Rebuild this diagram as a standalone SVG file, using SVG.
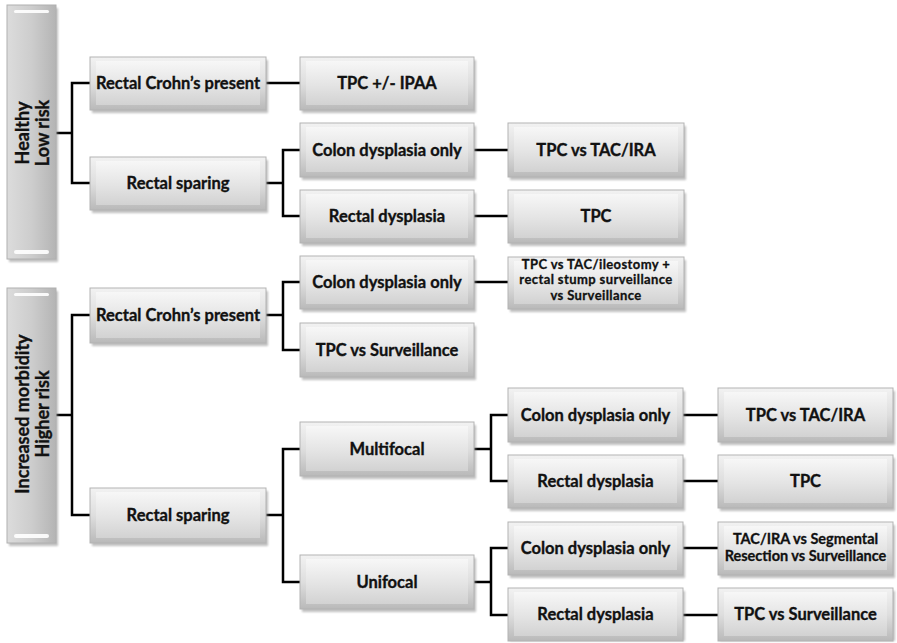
<svg xmlns="http://www.w3.org/2000/svg" width="897" height="643" viewBox="0 0 897 643">
<defs>
<linearGradient id="gOuter" x1="0" y1="0" x2="0" y2="1">
<stop offset="0" stop-color="#f2f2f2"/><stop offset="0.5" stop-color="#dedede"/><stop offset="1" stop-color="#b9b9b9"/>
</linearGradient>
<linearGradient id="gInner" x1="0" y1="0" x2="0" y2="1">
<stop offset="0" stop-color="#f7f7f7"/><stop offset="0.55" stop-color="#e4e4e4"/><stop offset="1" stop-color="#d2d2d2"/>
</linearGradient>
<linearGradient id="gTall" x1="0" y1="0" x2="1" y2="0">
<stop offset="0" stop-color="#dcdcdc"/><stop offset="0.5" stop-color="#cdcdcd"/><stop offset="1" stop-color="#b4b4b4"/>
</linearGradient>
<filter id="sh" x="-10%" y="-10%" width="130%" height="140%">
<feGaussianBlur stdDeviation="1.2"/>
</filter>
<style>
.shadow{fill:#8c8c8c;opacity:.55;filter:url(#sh)}
.outer{fill:url(#gOuter);stroke:#b3b3b3;stroke-width:1}
.inner{fill:url(#gInner)}
.tall{fill:url(#gTall);stroke:#b0b0b0;stroke-width:1}
.hl{fill:#ffffff;opacity:.9}
.t{font-family:Lato,"Open Sans","Liberation Sans",sans-serif;font-weight:700;font-size:16.5px;fill:#111;stroke:#111;stroke-width:0.35;text-anchor:middle}
.v{font-size:18px}
.s{font-size:13px;stroke-width:0.3;letter-spacing:0.4px}
.m{font-size:14.5px;stroke-width:0.3}
.conn{fill:none;stroke:#000;stroke-width:2.5}
</style>
</defs>
<rect width="897" height="643" fill="#fff"/>

<g id="connectors">
<path class="conn" d="M56 133 H72 M90 83 H72 V183 H90"/>
<path class="conn" d="M266 83 H300"/>
<path class="conn" d="M266 183 H283 M300 150 H283 V216 H300"/>
<path class="conn" d="M474 150 H508 M474 216 H508"/>
<path class="conn" d="M56 415 H72 M90 315 H72 V515 H90"/>
<path class="conn" d="M266 315 H283 M300 282 H283 V350 H300"/>
<path class="conn" d="M474 282 H508"/>
<path class="conn" d="M266 515 H283 M300 449 H283 V582 H300"/>
<path class="conn" d="M474 449 H491 M508 415 H491 V481 H508"/>
<path class="conn" d="M474 582 H491 M508 548 H491 V615 H508"/>
<path class="conn" d="M683 415 H718 M683 481 H718 M683 548 H718 M683 615 H718"/>
</g>

<g id="healthy">
<rect class="shadow" x="9" y="8" width="49" height="254"/>
<rect class="tall" x="7" y="5" width="49" height="254"/>
<rect class="hl" x="14" y="10" width="35" height="3" rx="1.5"/>
<rect class="hl" x="14" y="250" width="35" height="4" rx="2"/>
<text class="t v" transform="translate(31.5 133) rotate(-90)"><tspan x="0" y="-2.5">Healthy</tspan><tspan x="0" y="17.5">Low risk</tspan></text>
</g>

<g id="morbidity">
<rect class="shadow" x="9" y="291" width="49" height="255"/>
<rect class="tall" x="7" y="288" width="49" height="255"/>
<rect class="hl" x="14" y="293" width="35" height="3" rx="1.5"/>
<rect class="hl" x="14" y="534" width="35" height="4" rx="2"/>
<text class="t v" transform="translate(31.5 414) rotate(-90)"><tspan x="0" y="-2.5">Increased morbidity</tspan><tspan x="0" y="17.5">Higher risk</tspan></text>
</g>

<g id="h-rectal-crohns">
<rect class="shadow" x="92" y="60" width="176" height="53"/>
<rect class="outer" x="90" y="57" width="176" height="53"/>
<rect class="inner" x="96" y="61" width="164" height="44"/>
<text class="t" x="178" y="89">Rectal Crohn’s present</text>
</g>
<g id="h-rectal-sparing">
<rect class="shadow" x="92" y="160" width="176" height="53"/>
<rect class="outer" x="90" y="157" width="176" height="53"/>
<rect class="inner" x="96" y="161" width="164" height="44"/>
<text class="t" x="178" y="189">Rectal sparing</text>
</g>
<g id="h-tpc-ipaa">
<rect class="shadow" x="302" y="60" width="174" height="53"/>
<rect class="outer" x="300" y="57" width="174" height="53"/>
<rect class="inner" x="306" y="61" width="162" height="44"/>
<text class="t" x="387" y="89">TPC +/- IPAA</text>
</g>
<g id="h-colon-dysplasia">
<rect class="shadow" x="302" y="126" width="174" height="54"/>
<rect class="outer" x="300" y="123" width="174" height="54"/>
<rect class="inner" x="306" y="127" width="162" height="45"/>
<text class="t" x="387" y="155.5">Colon dysplasia only</text>
</g>
<g id="h-rectal-dysplasia">
<rect class="shadow" x="302" y="193" width="174" height="53"/>
<rect class="outer" x="300" y="190" width="174" height="53"/>
<rect class="inner" x="306" y="194" width="162" height="44"/>
<text class="t" x="387" y="222">Rectal dysplasia</text>
</g>
<g id="h-tpc-tac-ira">
<rect class="shadow" x="510" y="126" width="176" height="54"/>
<rect class="outer" x="508" y="123" width="176" height="54"/>
<rect class="inner" x="514" y="127" width="164" height="45"/>
<text class="t" x="596" y="155.5">TPC vs TAC/IRA</text>
</g>
<g id="h-tpc">
<rect class="shadow" x="510" y="193" width="176" height="53"/>
<rect class="outer" x="508" y="190" width="176" height="53"/>
<rect class="inner" x="514" y="194" width="164" height="44"/>
<text class="t" x="596" y="222">TPC</text>
</g>

<g id="m-rectal-crohns">
<rect class="shadow" x="92" y="291" width="176" height="55"/>
<rect class="outer" x="90" y="288" width="176" height="55"/>
<rect class="inner" x="96" y="292" width="164" height="46"/>
<text class="t" x="178" y="321">Rectal Crohn’s present</text>
</g>
<g id="m-rectal-sparing">
<rect class="shadow" x="92" y="491" width="176" height="55"/>
<rect class="outer" x="90" y="488" width="176" height="55"/>
<rect class="inner" x="96" y="492" width="164" height="46"/>
<text class="t" x="178" y="521">Rectal sparing</text>
</g>
<g id="m-colon-dysplasia">
<rect class="shadow" x="302" y="259" width="174" height="53"/>
<rect class="outer" x="300" y="256" width="174" height="53"/>
<rect class="inner" x="306" y="260" width="162" height="44"/>
<text class="t" x="387" y="288">Colon dysplasia only</text>
</g>
<g id="m-tpc-surveillance">
<rect class="shadow" x="302" y="326" width="174" height="54"/>
<rect class="outer" x="300" y="323" width="174" height="54"/>
<rect class="inner" x="306" y="327" width="162" height="45"/>
<text class="t" x="387" y="355.5">TPC vs Surveillance</text>
</g>
<g id="m-tpc-tac-ileostomy">
<rect class="shadow" x="510" y="260" width="176" height="52"/>
<rect class="outer" x="508" y="257" width="176" height="52"/>
<rect class="inner" x="514" y="261" width="164" height="43"/>
<text class="t s" x="596"><tspan x="596" y="268.5">TPC vs TAC/ileostomy +</tspan><tspan x="596" y="284">rectal stump surveillance</tspan><tspan x="596" y="299.5">vs Surveillance</tspan></text>
</g>
<g id="m-multifocal">
<rect class="shadow" x="302" y="425" width="174" height="54"/>
<rect class="outer" x="300" y="422" width="174" height="54"/>
<rect class="inner" x="306" y="426" width="162" height="45"/>
<text class="t" x="387" y="454.5">Multifocal</text>
</g>
<g id="m-unifocal">
<rect class="shadow" x="302" y="558" width="174" height="54"/>
<rect class="outer" x="300" y="555" width="174" height="54"/>
<rect class="inner" x="306" y="559" width="162" height="45"/>
<text class="t" x="387" y="587.5">Unifocal</text>
</g>
<g id="m-mf-colon-dysplasia">
<rect class="shadow" x="510" y="391" width="175" height="54"/>
<rect class="outer" x="508" y="388" width="175" height="54"/>
<rect class="inner" x="514" y="392" width="163" height="45"/>
<text class="t" x="595.5" y="420.5">Colon dysplasia only</text>
</g>
<g id="m-mf-rectal-dysplasia">
<rect class="shadow" x="510" y="458" width="175" height="53"/>
<rect class="outer" x="508" y="455" width="175" height="53"/>
<rect class="inner" x="514" y="459" width="163" height="44"/>
<text class="t" x="595.5" y="487">Rectal dysplasia</text>
</g>
<g id="m-mf-tpc-tac-ira">
<rect class="shadow" x="720" y="391" width="175" height="54"/>
<rect class="outer" x="718" y="388" width="175" height="54"/>
<rect class="inner" x="724" y="392" width="163" height="45"/>
<text class="t" x="805.5" y="420.5">TPC vs TAC/IRA</text>
</g>
<g id="m-mf-tpc">
<rect class="shadow" x="720" y="458" width="175" height="53"/>
<rect class="outer" x="718" y="455" width="175" height="53"/>
<rect class="inner" x="724" y="459" width="163" height="44"/>
<text class="t" x="805.5" y="487">TPC</text>
</g>
<g id="m-uf-colon-dysplasia">
<rect class="shadow" x="510" y="525" width="175" height="53"/>
<rect class="outer" x="508" y="522" width="175" height="53"/>
<rect class="inner" x="514" y="526" width="163" height="44"/>
<text class="t" x="595.5" y="554">Colon dysplasia only</text>
</g>
<g id="m-uf-rectal-dysplasia">
<rect class="shadow" x="510" y="591" width="175" height="50"/>
<rect class="outer" x="508" y="588" width="175" height="53"/>
<rect class="inner" x="514" y="592" width="163" height="44"/>
<text class="t" x="595.5" y="620">Rectal dysplasia</text>
</g>
<g id="m-uf-tac-ira-segmental">
<rect class="shadow" x="720" y="525" width="175" height="53"/>
<rect class="outer" x="718" y="522" width="175" height="53"/>
<rect class="inner" x="724" y="526" width="163" height="44"/>
<text class="t m" x="805.5"><tspan x="805.5" y="543.5">TAC/IRA vs Segmental</tspan><tspan x="805.5" y="560.5">Resection vs Surveillance</tspan></text>
</g>
<g id="m-uf-tpc-surveillance">
<rect class="shadow" x="720" y="591" width="175" height="50"/>
<rect class="outer" x="718" y="588" width="175" height="53"/>
<rect class="inner" x="724" y="592" width="163" height="44"/>
<text class="t" x="805.5" y="620">TPC vs Surveillance</text>
</g>
</svg>
